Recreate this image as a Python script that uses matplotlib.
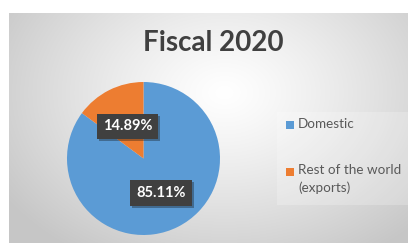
import numpy as np
import matplotlib
matplotlib.use("Agg")
import matplotlib.pyplot as plt
from matplotlib.patches import Rectangle
import matplotlib.patheffects as pe

title = "Fiscal 2020"
categories = ["Domestic", "Rest of the world\n(exports)"]
values = [85.11, 14.89]
colors = ["#5B9BD5", "#ED7D31"]

W, H = 408, 243
fig = plt.figure(figsize=(W / 100, H / 100), dpi=100)
fig.patch.set_facecolor("white")

# background gradient panel
bg = fig.add_axes([9 / W, 0, 1 - 9 / W, (H - 13) / H])
bg.set_axis_off()
ny, nx = 230, 399
yy, xx = np.mgrid[0:ny, 0:nx]
cx, cy = 215, 80
d = np.sqrt(((xx - cx) / 260.0) ** 2 + ((yy - cy) / 190.0) ** 2)
d = np.clip(d, 0, 1)
val = 1.0 - 0.22 * d ** 1.2
img = np.dstack([val, val, val])
bg.imshow(img, aspect="auto", extent=[0, 1, 0, 1], origin="upper")
bg.set_xlim(0, 1)
bg.set_ylim(0, 1)

# legend faint box
fig.patches.append(Rectangle((277 / W, (H - 205) / H), (W - 277) / W, 93 / H,
                             transform=fig.transFigure, facecolor="white",
                             alpha=0.22, edgecolor="none", zorder=1))

fig.text(213 / W, 1 - 43 / H, title, ha="center", va="center",
         fontsize=20, fontweight="bold", family="Lato", color="#404040")

cxp, cyp, r = 143.5, 158.5, 76.5
ax = fig.add_axes([(cxp - r) / W, (H - cyp - r) / H, 2 * r / W, 2 * r / H])
ax.set_axis_off()
wedges, _ = ax.pie(values, colors=colors, startangle=90, counterclock=False,
                   radius=1.0, wedgeprops=dict(linewidth=0))
ax.set_xlim(-1, 1)
ax.set_ylim(-1, 1)
ax.set_aspect("equal")

dists = [0.505, 0.47]
for w, v, dd in zip(wedges, values, dists):
    ang = np.deg2rad((w.theta1 + w.theta2) / 2)
    t = ax.text(dd * np.cos(ang), dd * np.sin(ang), f"{v:.2f}%",
                ha="center", va="center", fontsize=10.5, fontweight="bold",
                family="Lato", color="white",
                bbox=dict(boxstyle="square,pad=0.4", facecolor="#404040",
                          edgecolor="none"))
    t.get_bbox_patch().set_path_effects(
        [pe.SimplePatchShadow(offset=(1.5, -1.5), alpha=0.35), pe.Normal()])

# legend drawn manually (marker aligned with first text line)
leg_y = [125, 172]
for cat, col, y in zip(categories, colors, leg_y):
    fig.patches.append(Rectangle((286 / W, (H - y - 4) / H), 8 / W, 8 / H,
                                 transform=fig.transFigure, facecolor=col,
                                 edgecolor="none", zorder=3))
    fig.text(298 / W, 1 - (y - 7.5) / H, cat, ha="left", va="top",
             fontsize=9.7, family="Lato", color="#595959", linespacing=1.5)

fig.savefig("out.png", dpi=100)
